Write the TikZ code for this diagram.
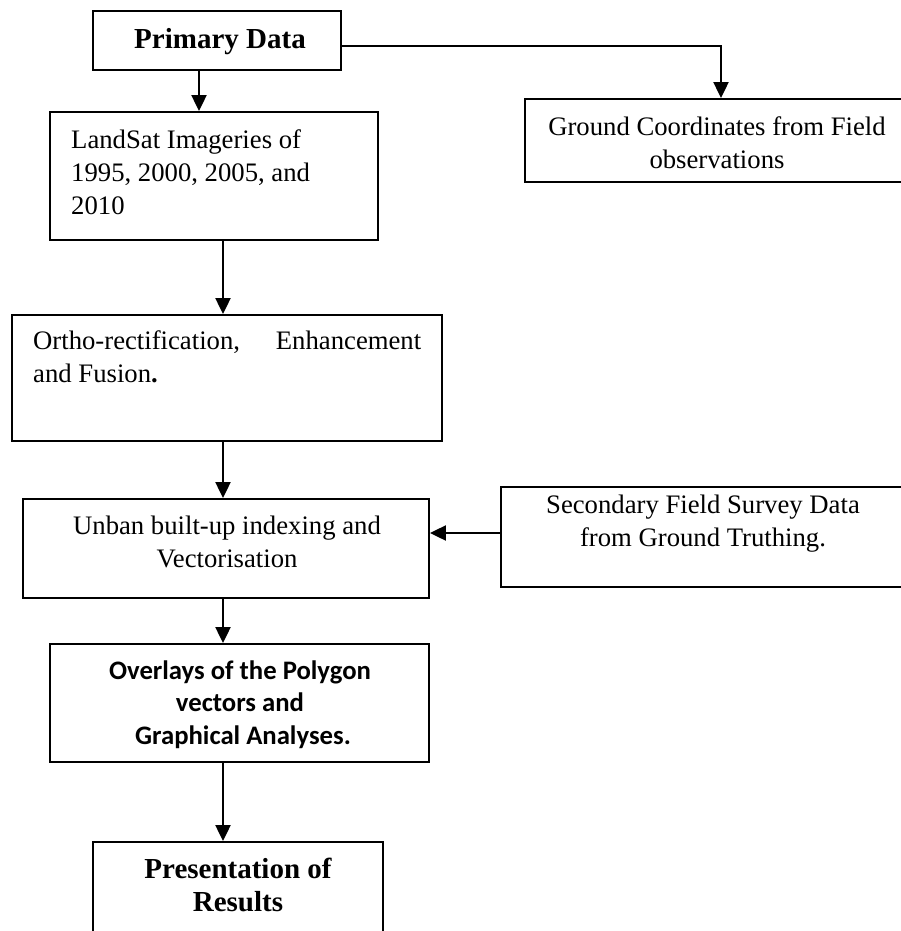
\documentclass[tikz,border=0pt]{standalone}
\usepackage{fontspec}
\setmainfont{Liberation Serif}
\newfontfamily\calibfont{Carlito}
\usetikzlibrary{arrows.meta}
\begin{document}
\begin{tikzpicture}[x=1pt,y=-1pt,
  box/.style={draw, line width=1.9pt, rectangle, inner sep=0pt},
  txt/.style={inner sep=0pt, font=\fontsize{26.7}{33}\selectfont, align=center},
  btxt/.style={inner sep=0pt, font=\fontsize{29}{33}\selectfont\bfseries, align=center},
  ctxt/.style={inner sep=0pt, font=\fontsize{26.7}{32.5}\selectfont\calibfont\bfseries, align=center},
  arr/.style={line width=2.2pt, -{Triangle[length=16pt,width=15pt]}},
]
\useasboundingbox (0,0) rectangle (901,931);
\clip (0,0) rectangle (901,931);

% boxes
\node[box, minimum width=248pt, minimum height=59pt] (prim) at (217,40.5) {};
\node[box, minimum width=328pt, minimum height=128pt] (land) at (214,176) {};
\node[box, minimum width=384pt, minimum height=83pt] (ground) at (717,140.5) {};
\node[box, minimum width=430pt, minimum height=126pt] (ortho) at (227,378) {};
\node[box, minimum width=406pt, minimum height=99pt] (unban) at (226,548.5) {};
\node[box, minimum width=404pt, minimum height=100pt] (second) at (703,537) {};
\node[box, minimum width=379pt, minimum height=118pt] (over) at (239.5,703) {};
\node[box, minimum width=290pt, minimum height=120pt] (pres) at (238,902) {};

% texts
\node[btxt] (primt) at (220,42) {\strut Primary Data};
\node[txt, anchor=west, align=left] (landt) at (71,175) {\strut LandSat Imageries of\\\strut 1995, 2000, 2005, and\\\strut 2010};
\node[txt] (groundt) at (717,145) {\strut Ground Coordinates from Field\\\strut observations};
\node[txt, anchor=west, align=left] (orthot) at (33,359) {\makebox[388pt][l]{\strut Ortho-rectification,\hfill Enhancement}\\\strut and Fusion\textbf{.}};
\node[txt] (unbant) at (227,544) {\strut Unban built-up indexing and\\\strut Vectorisation};
\node[txt] (secondt) at (703,523.5) {\strut Secondary Field Survey Data\\\strut from Ground Truthing.};
\node[ctxt] (overt) at (240,705) {\strut Overlays of the Polygon\\\strut vectors and\\\strut\hspace*{6pt}Graphical Analyses.};
\node[btxt] (prest) at (238,888.5) {\strut Presentation of\\\strut Results};

% connectors
\coordinate (c1) at ([xshift=-18pt]prim.south);
\draw[arr] (c1) -- (c1 |- land.north);
\coordinate (c2) at ([yshift=-5.5pt]prim.east);
\coordinate (c3) at ([xshift=4pt]ground.north);
\draw[arr] (c2) -| (c3);
\coordinate (c4) at ([xshift=9pt]land.south);
\draw[arr] (c4) -- (c4 |- ortho.north);
\coordinate (c5) at ([xshift=-4pt]ortho.south);
\draw[arr] (c5) -- (c5 |- unban.north);
\coordinate (c6) at ([yshift=4pt]second.west);
\draw[arr] (c6) -- (c6 -| unban.east);
\coordinate (c7) at ([xshift=-3pt]unban.south);
\draw[arr] (c7) -- (c7 |- over.north);
\coordinate (c8) at ([xshift=-16.5pt]over.south);
\draw[arr] (c8) -- (c8 |- pres.north);
\end{tikzpicture}
\end{document}
